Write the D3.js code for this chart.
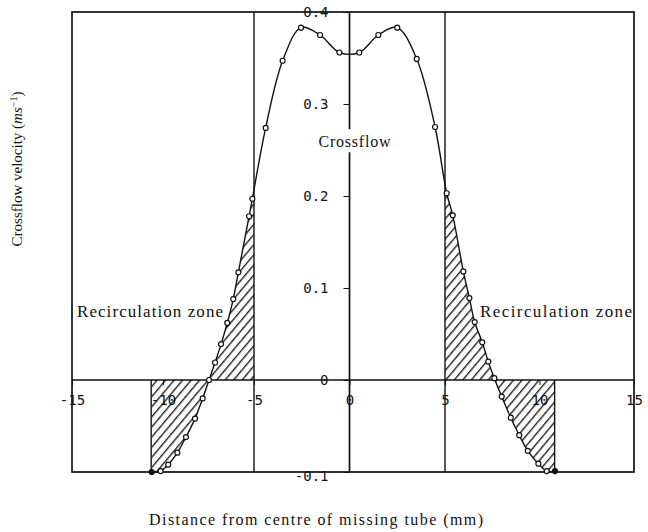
<!DOCTYPE html>
<html>
<head>
<meta charset="utf-8">
<script src="https://cdn.jsdelivr.net/npm/d3@7"></script>
<style>
  body { margin: 0; background: #fff; }
  svg { display: block; }
  .tick text { font-family: "DejaVu Sans Mono", monospace; font-size: 14px; fill: #111; }
  .lbl { font-family: "Liberation Serif", "Times New Roman", serif; fill: #111; }
</style>
</head>
<body>
<div id="chart"></div>
<script>
// measured crossflow profile across the gap left by the missing tube
const positions = [-10.62, -10.13, -9.71, -9.21, -8.74, -8.24, -7.82, -7.47, -7.14, -6.81,
  -6.47, -6.14, -5.86, -5.27, -5.09, -4.39, -3.5, -2.54, -1.54, -0.53,
  0.51, 1.51, 2.5, 3.52, 4.48, 5.09, 5.41, 5.97, 6.29, 6.57,
  6.97, 7.29, 7.61, 8.0, 8.48, 8.93, 9.38, 9.94, 10.38, 10.82];
const velocity = [-0.100, -0.099, -0.092, -0.079, -0.062, -0.042, -0.020, 0.000, 0.019, 0.039,
  0.062, 0.088, 0.117, 0.178, 0.197, 0.274, 0.347, 0.383, 0.375, 0.356,
  0.356, 0.375, 0.383, 0.349, 0.275, 0.203, 0.179, 0.118, 0.089, 0.063,
  0.041, 0.020, 0.002, -0.018, -0.041, -0.060, -0.077, -0.091, -0.099, -0.099];

const xTicks = [-15, -10, -5, 0, 5, 10, 15];
const yTicks = [-0.1, 0, 0.1, 0.2, 0.3, 0.4];
const tubeEdges = [-5, 5];
const leftZone = [-10.65, -5];
const rightZone = [5, 10.8];

const width = 648, height = 532;
const ink = "#111";

const svg = d3.select("#chart").append("svg")
  .attr("width", width).attr("height", height);

// the scan is slightly uneven, so the x scale is piecewise
const x = d3.scaleLinear().domain([-15, -5, 5, 15]).range([72, 254, 445, 634]);
const y = d3.scaleLinear().domain([-0.1, 0.4]).range([472, 12]);

const pts = positions.map((p, i) => ({ p, v: velocity[i] }));

const defs = svg.append("defs");
const pat = defs.append("pattern")
  .attr("id", "hatch")
  .attr("patternUnits", "userSpaceOnUse")
  .attr("width", 6.5).attr("height", 6.5)
  .attr("patternTransform", "rotate(40)");
pat.append("line")
  .attr("x1", 0.7).attr("y1", 0).attr("x2", 0.7).attr("y2", 6.5)
  .attr("stroke", ink).attr("stroke-width", 1.3);

[leftZone, rightZone].forEach((z, i) => {
  defs.append("clipPath").attr("id", "zone" + i)
    .append("rect")
    .attr("x", x(z[0])).attr("y", y(0.4))
    .attr("width", x(z[1]) - x(z[0]))
    .attr("height", y(-0.1) - y(0.4));
});

const curve = d3.curveCatmullRom.alpha(0.5);

const area = d3.area()
  .x(d => x(d.p))
  .y0(y(0))
  .y1(d => y(d.v))
  .curve(curve);

[0, 1].forEach(i => {
  svg.append("path")
    .datum(pts)
    .attr("clip-path", `url(#zone${i})`)
    .attr("fill", "url(#hatch)")
    .attr("d", area);
});

// zone outer edges below the axis
[leftZone[0], rightZone[1]].forEach(v => {
  svg.append("line")
    .attr("x1", x(v)).attr("x2", x(v))
    .attr("y1", y(0)).attr("y2", y(-0.1))
    .attr("stroke", ink).attr("stroke-width", 1.4);
});

// frame
svg.append("rect")
  .attr("x", x(-15)).attr("y", y(0.4))
  .attr("width", x(15) - x(-15))
  .attr("height", y(-0.1) - y(0.4))
  .attr("fill", "none").attr("stroke", ink).attr("stroke-width", 1.7);

// tube edges
tubeEdges.forEach(v => {
  svg.append("line")
    .attr("x1", x(v)).attr("x2", x(v))
    .attr("y1", y(0.4)).attr("y2", y(-0.1))
    .attr("stroke", ink).attr("stroke-width", 1.4);
});

// zero lines
svg.append("line")
  .attr("x1", x(-15)).attr("x2", x(15))
  .attr("y1", y(0)).attr("y2", y(0))
  .attr("stroke", ink).attr("stroke-width", 1.4);
svg.append("line")
  .attr("x1", x(0)).attr("x2", x(0))
  .attr("y1", y(0.4)).attr("y2", y(-0.1))
  .attr("stroke", ink).attr("stroke-width", 1.7);

const fmt = d => d === 0 ? "0" : String(d);

const yAxis = svg.append("g")
  .attr("transform", `translate(${x(0)},0)`)
  .call(d3.axisLeft(y).tickValues(yTicks).tickSize(6).tickPadding(15).tickFormat(fmt));
yAxis.select(".domain").remove();
yAxis.selectAll(".tick line").attr("stroke", ink);
// bottom label sits just under the frame line
yAxis.selectAll(".tick text").filter(d => d === -0.1).attr("dy", "0.6em");

const xAxis = svg.append("g")
  .attr("transform", `translate(0,${y(0)})`)
  .call(d3.axisBottom(x).tickValues(xTicks).tickSize(5).tickPadding(10).tickFormat(fmt));
xAxis.select(".domain").remove();
xAxis.selectAll(".tick line").attr("stroke", ink);

// profile
svg.append("path")
  .datum(pts)
  .attr("fill", "none")
  .attr("stroke", ink)
  .attr("stroke-width", 1.4)
  .attr("d", d3.line().x(d => x(d.p)).y(d => y(d.v)).curve(curve));

svg.append("g")
  .selectAll("circle")
  .data(pts)
  .join("circle")
  .attr("cx", d => x(d.p))
  .attr("cy", d => y(d.v))
  .attr("r", 2.5)
  .attr("fill", (d, i) => (i === 0 || i === pts.length - 1) ? ink : "#fff")
  .attr("stroke", ink)
  .attr("stroke-width", 1.2);

// labels
const cf = svg.append("text")
  .attr("class", "lbl")
  .attr("x", x(0) + 5).attr("y", y(0.253))
  .attr("text-anchor", "middle")
  .attr("font-size", 16)
  .attr("textLength", 72)
  .text("Crossflow");
const bb = cf.node().getBBox();
svg.insert("rect", "text.lbl")
  .attr("x", x(0) - 3).attr("y", bb.y - 4)
  .attr("width", 6).attr("height", bb.height + 6)
  .attr("fill", "#fff");

svg.append("text")
  .attr("class", "lbl")
  .attr("x", x(-15) + 5).attr("y", y(0.069))
  .attr("font-size", 17)
  .attr("textLength", 146)
  .text("Recirculation zone");

svg.append("text")
  .attr("class", "lbl")
  .attr("x", x(15) - 2).attr("y", y(0.069))
  .attr("text-anchor", "end")
  .attr("font-size", 17)
  .attr("textLength", 152)
  .text("Recirculation zone");

svg.append("text")
  .attr("class", "lbl")
  .attr("x", 316).attr("y", 525)
  .attr("text-anchor", "middle")
  .attr("font-size", 16)
  .attr("textLength", 334)
  .text("Distance from centre of missing tube (mm)");

const yt = svg.append("text")
  .attr("class", "lbl")
  .attr("transform", "translate(22,169) rotate(-90)")
  .attr("text-anchor", "middle")
  .attr("font-size", 15);
yt.append("tspan").text("Crossflow velocity (");
yt.append("tspan").attr("font-style", "italic").text("ms");
yt.append("tspan").attr("dy", -5).attr("font-size", 10).text("−1");
yt.append("tspan").attr("dy", 5).text(")");
</script>
</body>
</html>
